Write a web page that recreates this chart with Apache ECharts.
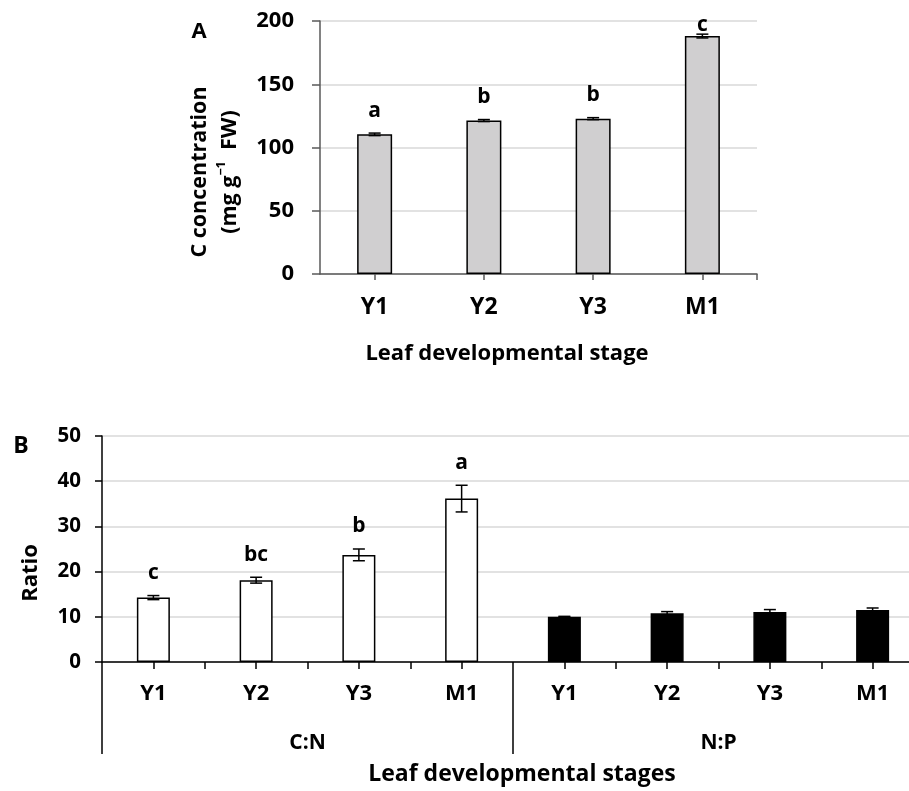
<!DOCTYPE html>
<html><head><meta charset="utf-8">
<script src="https://cdn.jsdelivr.net/npm/echarts@6/dist/echarts.min.js"></script>
<style>html,body{margin:0;padding:0;background:#fff}#c{width:909px;height:791px}</style>
</head><body><div id="c"></div>
<script>
// ---- Panel A data ----
const stagesA = ['Y1', 'Y2', 'Y3', 'M1'];
const concA = [110.4, 121.3, 122.8, 188.1];
const concAErr = [1.0, 0.8, 0.8, 1.5];
const concALetters = ['a', 'b', 'b', 'c'];

// ---- Panel B data ----
const stagesB = ['Y1', 'Y2', 'Y3', 'M1', 'Y1', 'Y2', 'Y3', 'M1'];
const groupsB = ['C:N', 'N:P'];
const ratioCN = [14.25, 18.1, 23.7, 36.15];
const ratioCNErr = [0.45, 0.65, 1.3, 2.95];
const ratioCNLetters = ['c', 'bc', 'b', 'a'];
const ratioNP = [10.0, 10.8, 11.05, 11.5];
const ratioNPErr = [0.1, 0.35, 0.55, 0.45];

const FONT = 'Open Sans';
const chart = echarts.init(document.getElementById('c'), null, {renderer: 'canvas'});

function errRender(letters, capHalf, gap, minY) {
  return function (params, api) {
    const x = api.value(0), v = api.value(1), e = api.value(2);
    const lo = api.coord([x, v - e]);
    const hi = api.coord([x, v + e]);
    const ls = {stroke: '#000', lineWidth: 1.5};
    const children = [
      {type: 'line', shape: {x1: lo[0], y1: lo[1], x2: hi[0], y2: hi[1]}, style: ls},
      {type: 'line', shape: {x1: lo[0] - capHalf, y1: lo[1], x2: lo[0] + capHalf, y2: lo[1]}, style: ls},
      {type: 'line', shape: {x1: hi[0] - capHalf, y1: hi[1], x2: hi[0] + capHalf, y2: hi[1]}, style: ls}
    ];
    const t = letters ? letters[params.dataIndex] : null;
    if (t) {
      children.push({
        type: 'text', x: hi[0], y: Math.max(hi[1] - gap, minY),
        style: {text: t, fill: '#000', fontSize: 21, fontWeight: 'bold', fontFamily: FONT,
                align: 'center', verticalAlign: 'bottom'}
      });
    }
    return {type: 'group', children: children};
  };
}

const labelStyle = (size) => ({color: '#000', fontSize: size, fontWeight: 'bold', fontFamily: FONT});
const gridLine = {show: true, lineStyle: {color: '#d9d9d9', width: 1.5}};
const hiddenLine = {show: true, lineStyle: {color: 'rgba(0,0,0,0)', width: 0}};

const option = {
  backgroundColor: '#fff',
  animation: false,
  grid: [
    {left: 320, top: 21, width: 437, height: 253, containLabel: false, outerBoundsMode: 'none'},
    {left: 102, top: 436, width: 822, height: 226, containLabel: false, outerBoundsMode: 'none'}
  ],
  xAxis: [
    {gridIndex: 0, type: 'category', data: stagesA, position: 'bottom',
     axisLine: {lineStyle: {color: '#595959', width: 1.5}},
     axisTick: {show: true, alignWithLabel: true, length: 6, lineStyle: {color: '#595959', width: 1.5}},
     axisLabel: Object.assign({margin: 22}, labelStyle(23)), splitLine: {show: false}},
    {gridIndex: 0, type: 'value', min: 0, max: 4, position: 'bottom',
     axisLine: hiddenLine, axisLabel: {show: false}, splitLine: {show: false},
     axisTick: {show: true, length: 6, customValues: [4], lineStyle: {color: '#595959', width: 1.5}}},
    {gridIndex: 1, type: 'category', data: stagesB, position: 'bottom',
     axisLine: {lineStyle: {color: '#000', width: 1.5}},
     axisTick: {show: true, alignWithLabel: false, length: 7, lineStyle: {color: '#000', width: 1.5}},
     axisLabel: Object.assign({margin: 21}, labelStyle(22)), splitLine: {show: false}},
    {gridIndex: 1, type: 'category', data: stagesB, position: 'bottom',
     axisLine: hiddenLine, axisLabel: {show: false}, splitLine: {show: false},
     axisTick: {show: true, alignWithLabel: true, length: 7, lineStyle: {color: '#000', width: 1.5}}},
    {gridIndex: 1, type: 'category', data: groupsB, position: 'bottom',
     axisLine: hiddenLine, splitLine: {show: false},
     axisTick: {show: true, alignWithLabel: false, length: 92, lineStyle: {color: '#000', width: 1.5}},
     axisLabel: Object.assign({margin: 71}, labelStyle(21))}
  ],
  yAxis: [
    {gridIndex: 0, type: 'value', min: 0, max: 200, interval: 50,
     axisLine: {show: true, lineStyle: {color: '#595959', width: 1.5}},
     axisTick: {show: true, length: 8, lineStyle: {color: '#595959', width: 1.5}},
     axisLabel: Object.assign({margin: 26}, labelStyle(22)), splitLine: gridLine},
    {gridIndex: 1, type: 'value', min: 0, max: 50, interval: 10,
     axisLine: {show: true, lineStyle: {color: '#000', width: 1.5}},
     axisTick: {show: true, length: 7, lineStyle: {color: '#000', width: 1.5}},
     axisLabel: Object.assign({margin: 21}, labelStyle(20.5)), splitLine: gridLine}
  ],
  series: [
    {type: 'bar', xAxisIndex: 0, yAxisIndex: 0, data: concA, barWidth: 35,
     itemStyle: {color: '#d0cfd0', borderColor: '#000', borderWidth: 1.5}, z: 2},
    {type: 'custom', xAxisIndex: 0, yAxisIndex: 0, clip: false, z: 5,
     encode: {x: 0, y: 1},
     data: concA.map((v, i) => [i, v, concAErr[i]]),
     renderItem: errRender(concALetters, 6, 12, 36)},
    {type: 'bar', xAxisIndex: 2, yAxisIndex: 1, barWidth: 33, barGap: '-100%',
     data: ratioCN.concat(ratioNP.map(() => '-')),
     itemStyle: {color: '#fff', borderColor: '#000', borderWidth: 1.5}, z: 2},
    {type: 'bar', xAxisIndex: 2, yAxisIndex: 1, barWidth: 33, barGap: '-100%',
     data: ratioCN.map(() => '-').concat(ratioNP),
     itemStyle: {color: '#000', borderColor: '#000', borderWidth: 1.5}, z: 2},
    {type: 'custom', xAxisIndex: 2, yAxisIndex: 1, clip: false, z: 5,
     encode: {x: 0, y: 1},
     data: ratioCN.map((v, i) => [i, v, ratioCNErr[i]]),
     renderItem: errRender(ratioCNLetters, 6, 12, 0)},
    {type: 'custom', xAxisIndex: 2, yAxisIndex: 1, clip: false, z: 5,
     encode: {x: 0, y: 1},
     data: ratioNP.map((v, i) => [i + ratioCN.length, v, ratioNPErr[i]]),
     renderItem: errRender(null, 6, 12, 0)}
  ],
  graphic: [
    {type: 'text', x: 199, y: 32, style: {text: 'A', fill: '#000', fontSize: 22, fontWeight: 'bold', fontFamily: FONT, align: 'center', verticalAlign: 'middle'}},
    {type: 'text', x: 21, y: 446, style: {text: 'B', fill: '#000', fontSize: 23, fontWeight: 'bold', fontFamily: FONT, align: 'center', verticalAlign: 'middle'}},
    {type: 'text', x: 215, y: 172, rotation: Math.PI / 2,
     style: {text: 'C concentration\n(mg g{sup|−1}  FW)', fill: '#000', fontSize: 21.5, fontWeight: 'bold', fontFamily: FONT,
             align: 'center', verticalAlign: 'middle', lineHeight: 30,
             rich: {sup: {fontSize: 12.5, fontWeight: 'bold', fontFamily: FONT, fill: '#000', verticalAlign: 'top', lineHeight: 30}}}},
    {type: 'text', x: 31, y: 573, rotation: Math.PI / 2,
     style: {text: 'Ratio', fill: '#000', fontSize: 22, fontWeight: 'bold', fontFamily: FONT, align: 'center', verticalAlign: 'middle'}},
    {type: 'text', x: 507, y: 354, style: {text: 'Leaf developmental stage', fill: '#000', fontSize: 22, fontWeight: 'bold', fontFamily: FONT, align: 'center', verticalAlign: 'middle'}},
    {type: 'text', x: 522, y: 774, style: {text: 'Leaf developmental stages', fill: '#000', fontSize: 23, fontWeight: 'bold', fontFamily: FONT, align: 'center', verticalAlign: 'middle'}}
  ]
};
chart.setOption(option);
</script>
</body></html>
